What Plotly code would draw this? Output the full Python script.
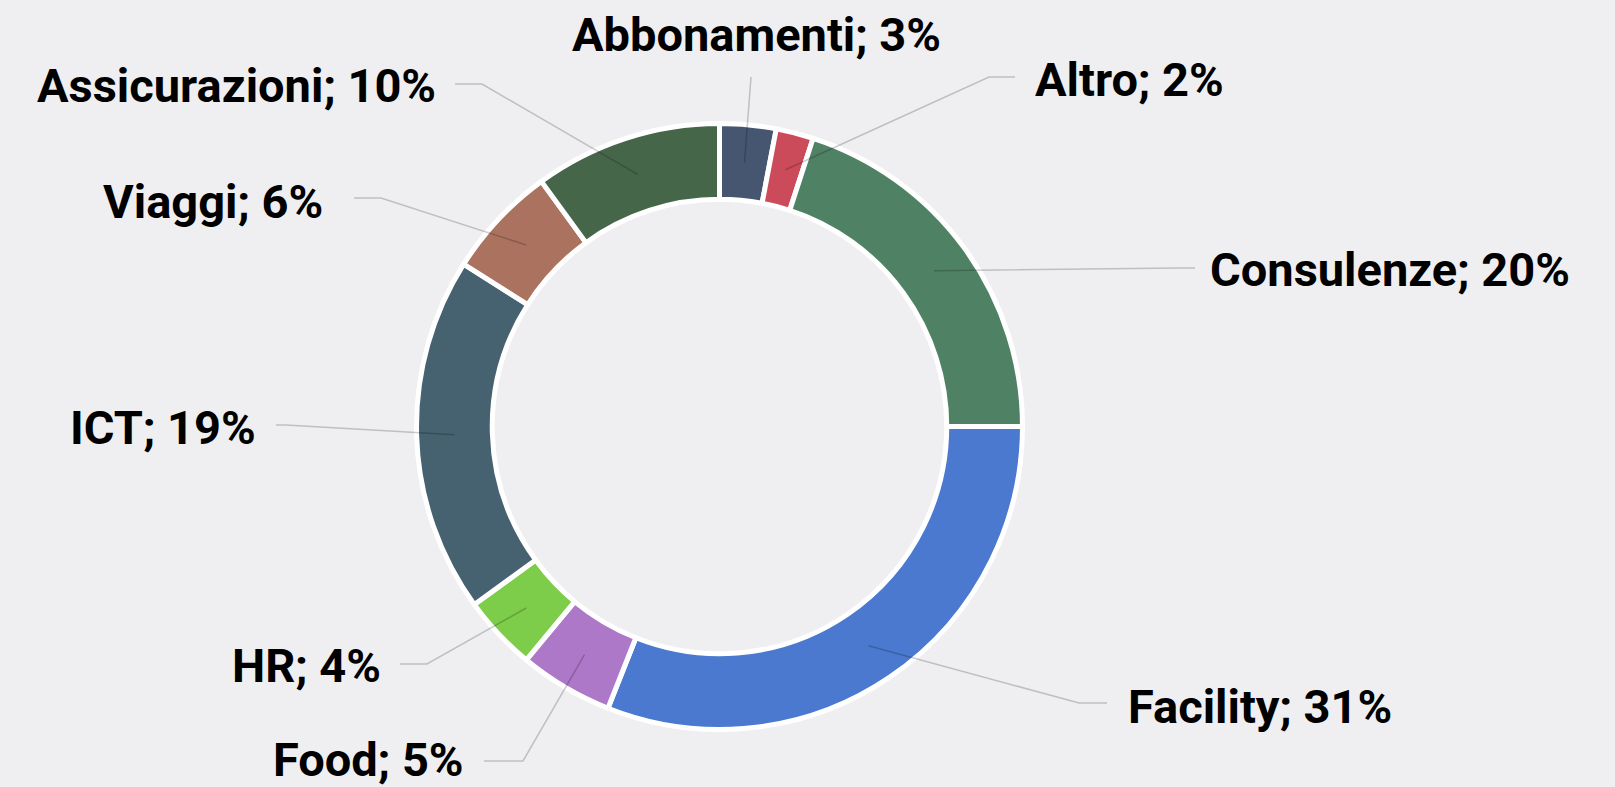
import math
import plotly.graph_objects as go

# ---- data ----
categories = ["Abbonamenti", "Altro", "Consulenze", "Facility", "Food", "HR", "ICT", "Viaggi", "Assicurazioni"]
shares = [3, 2, 20, 31, 5, 4, 19, 6, 10]
colors = ["#465670", "#CC4B5A", "#4F8264", "#4A79CF", "#AE78C8", "#7DCC4A", "#46616F", "#AB735F", "#46664A"]

# ---- layout (pixels) ----
W, H = 1615, 787
CX, CY = 719.5, 426.5        # donut centre
R_OUT = 303                  # outer radius
HOLE = 0.75
R_MID = R_OUT * (1 + HOLE) / 2

# label placement: elbow point, end of horizontal segment, text anchor x, text y, side
label_layout = {
    "Abbonamenti":   dict(elbow=(751, 77),  end=(751, 77),   tx=756,  ty=34,  side="center"),
    "Altro":         dict(elbow=(989, 77),  end=(1015, 77),  tx=1033, ty=79,  side="left"),
    "Consulenze":    dict(elbow=(1180, 268), end=(1195, 268), tx=1208, ty=269, side="left"),
    "Facility":      dict(elbow=(1079, 703), end=(1107, 703), tx=1126, ty=706, side="left"),
    "Food":          dict(elbow=(523, 761), end=(484, 761),  tx=466,  ty=759, side="right"),
    "HR":            dict(elbow=(427, 664), end=(400, 664),  tx=383,  ty=665, side="right"),
    "ICT":           dict(elbow=(286, 425), end=(276, 425),  tx=258,  ty=427, side="right"),
    "Viaggi":        dict(elbow=(381, 198), end=(354, 198),  tx=325,  ty=201, side="right"),
    "Assicurazioni": dict(elbow=(482, 84),  end=(455, 84),   tx=438,  ty=85,  side="right"),
}

total = sum(shares)
fig = go.Figure()

fig.add_trace(go.Pie(
    labels=categories,
    values=shares,
    sort=False,
    direction="clockwise",
    rotation=0,
    hole=HOLE,
    marker=dict(colors=colors, line=dict(color="#FFFFFF", width=5)),
    textinfo="none",
    hoverinfo="label+percent",
    showlegend=False,
    domain=dict(
        x=[(CX - R_OUT) / W, (CX + R_OUT) / W],
        y=[(H - CY - R_OUT) / H, (H - CY + R_OUT) / H],
    ),
))

# invisible pixel-scaled axes for leader lines and labels
fig.add_trace(go.Scatter(x=[0, W], y=[0, H], mode="markers", marker=dict(opacity=0),
                         hoverinfo="skip", showlegend=False))

cum = 0
shapes = []
annotations = []
for cat, v in zip(categories, shares):
    mid = (cum + v / 2) / total * 2 * math.pi
    cum += v
    sx = CX + R_MID * math.sin(mid)
    sy = CY - R_MID * math.cos(mid)
    L = label_layout[cat]
    (ex, ey), (tx2, ty2) = L["elbow"], L["end"]
    path = f"M {sx:.1f},{sy:.1f} L {ex},{ey} L {tx2},{ty2}"
    shapes.append(dict(type="path", path=path, xref="x", yref="y", layer="above",
                       line=dict(color="rgba(0,0,0,0.2)", width=1.5)))
    pct = round(v / total * 100)
    annotations.append(dict(
        x=L["tx"], y=L["ty"], xref="x", yref="y",
        text=f"{cat}; {pct}%", showarrow=False,
        xanchor=L["side"], yanchor="middle",
        font=dict(family="Roboto", size=47, color="#000000", weight="bold"),
    ))

fig.update_layout(
    width=W, height=H,
    margin=dict(l=0, r=0, t=0, b=0),
    paper_bgcolor="#EFEFF2",
    plot_bgcolor="rgba(0,0,0,0)",
    xaxis=dict(range=[0, W], visible=False, fixedrange=True, domain=[0, 1]),
    yaxis=dict(range=[H, 0], visible=False, fixedrange=True, domain=[0, 1]),
    shapes=shapes,
    annotations=annotations,
    showlegend=False,
)

fig.write_html(
    "out.html",
    config={"displayModeBar": False},
    post_script="document.body.style.margin='0';document.body.style.overflow='hidden';document.body.style.background='#EFEFF2';",
)
